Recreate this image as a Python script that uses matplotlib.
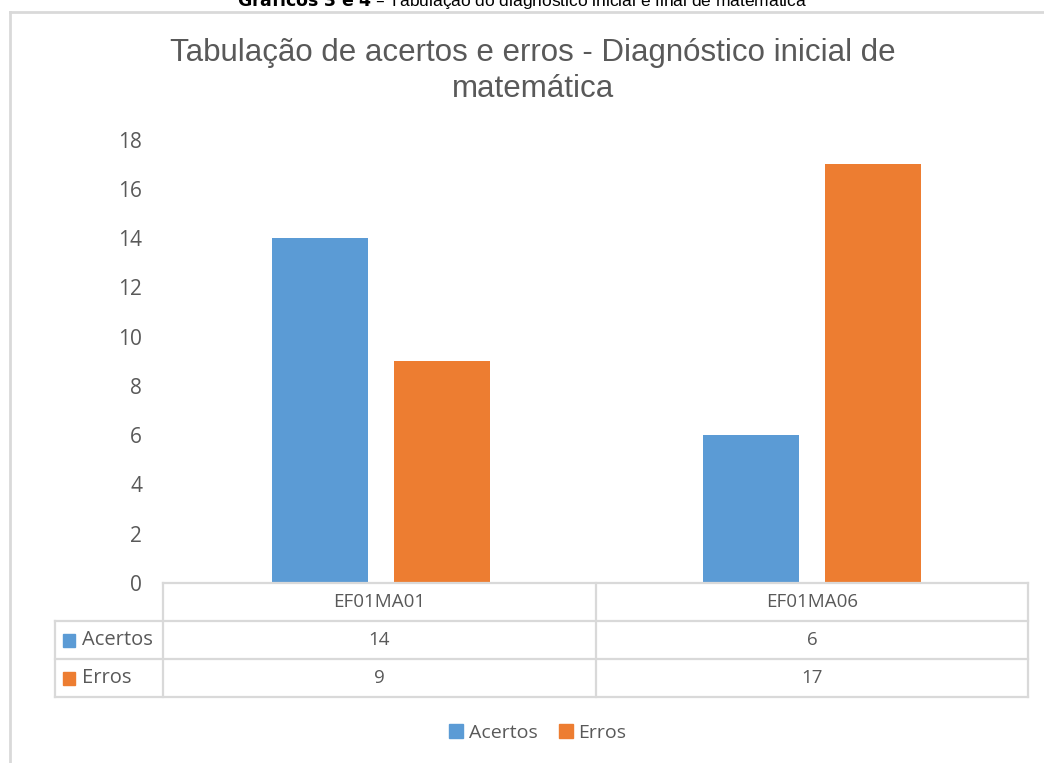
import matplotlib.pyplot as plt
from matplotlib.lines import Line2D
from matplotlib.patches import Patch, Rectangle

categories = ['EF01MA01', 'EF01MA06']
series_names = ['Acertos', 'Erros']
acertos = [14, 6]
erros = [9, 17]
yticks = [0, 2, 4, 6, 8, 10, 12, 14, 16, 18]

BLUE = '#5B9BD5'
ORANGE = '#ED7D31'
TXT = '#595959'
GRID = '#D9D9D9'

W, H = 1044, 763
fig = plt.figure(figsize=(W / 100, H / 100), dpi=100)
fig.patch.set_facecolor('white')


def fx(px):
    return px / W


def fy(py):
    return 1 - py / H


# chart frame (cut by the page edge on right/bottom)
fig.add_artist(Line2D([fx(10), fx(10)], [fy(12), 0], color=GRID, lw=2))
fig.add_artist(Line2D([fx(10), 1], [fy(12), fy(12)], color=GRID, lw=2))

# caption above the chart, cut by the top edge as in the page scan
fig.text(0.5, fy(6), r'$\bf{Gráficos\ 3\ e\ 4}$ – Tabulação do diagnóstico inicial e final de matemática',
         ha='center', va='baseline', fontsize=12.5, family='Liberation Sans', color='black')

title_lines = ['Tabulação de acertos e erros - Diagnóstico inicial de', 'matemática']
for line, base in zip(title_lines, [61, 97]):
    fig.text(fx(533), fy(base), line, ha='center', va='baseline', fontsize=22.5,
             family='Liberation Sans', color=TXT)

left, right, top, bottom = 165, 1028, 139.5, 583
ax = fig.add_axes([fx(left), fy(bottom), fx(right - left), fy(top) - fy(bottom)])
x = list(range(len(categories)))
bw = 0.2225
off = 0.141
ax.bar([i - off for i in x], acertos, bw, color=BLUE)
ax.bar([i + off for i in x], erros, bw, color=ORANGE)
ax.set_xlim(-0.5, len(categories) - 0.5)
ax.set_ylim(0, 18)
ax.set_yticks(yticks)
ax.set_xticks([])
for s in ax.spines.values():
    s.set_visible(False)
ax.tick_params(axis='y', length=0, pad=16.5, labelsize=15, labelcolor=TXT)
for lab in ax.get_yticklabels():
    lab.set_family('Open Sans')

# data table under the axis
rows = [583, 621, 659, 697]
col_x = [55, 163, 596, 1028]
lw = 1.6
fig.add_artist(Line2D([fx(163), fx(1028)], [fy(583)] * 2, color=GRID, lw=lw))
for r in rows[1:]:
    fig.add_artist(Line2D([fx(55), fx(1028)], [fy(r)] * 2, color=GRID, lw=lw))
for c in col_x[1:]:
    fig.add_artist(Line2D([fx(c)] * 2, [fy(583), fy(697)], color=GRID, lw=lw))
fig.add_artist(Line2D([fx(55)] * 2, [fy(621), fy(697)], color=GRID, lw=lw))

tfont = dict(family='Open Sans', fontsize=13.5, color=TXT, ha='center', va='center')
for j, cat in enumerate(categories):
    cx = (col_x[j + 1] + col_x[j + 2]) / 2
    fig.text(fx(cx), fy(602), cat, **tfont)
    fig.text(fx(cx), fy(640), str(acertos[j]), **tfont)
    fig.text(fx(cx), fy(678), str(erros[j]), **tfont)

for i, (name, col) in enumerate(zip(series_names, [BLUE, ORANGE])):
    yc = 640 + i * 38
    fig.add_artist(Rectangle((fx(63), fy(yc + 6.5)), fx(12), fy(yc - 6.5) - fy(yc + 6.5), color=col))
    fig.text(fx(82), fy(yc), name, family='Open Sans', fontsize=14.5, color=TXT,
             ha='left', va='center')

handles = [Patch(color=BLUE, label=series_names[0]), Patch(color=ORANGE, label=series_names[1])]
leg = fig.legend(handles=handles, loc='center', bbox_to_anchor=(fx(538), fy(733)), ncol=2,
                 frameon=False, handlelength=0.7, handleheight=0.7, handletextpad=0.3,
                 columnspacing=1.1, prop={'family': 'Open Sans', 'size': 14})
for t in leg.get_texts():
    t.set_color(TXT)

fig.savefig('out.png', dpi=100)
